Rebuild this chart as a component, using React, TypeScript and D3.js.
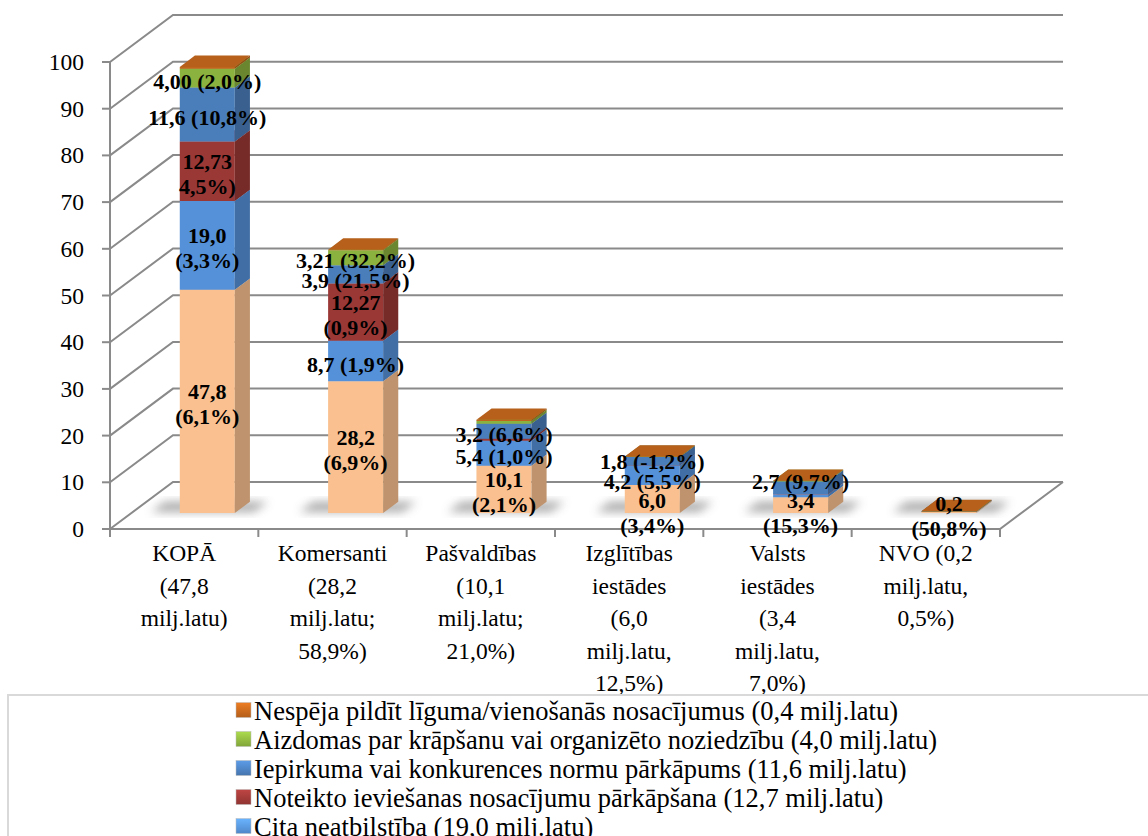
import React from 'react';
import * as d3 from 'd3';

const categories = [
  'KOPĀ\n(47,8\nmilj.latu)',
  'Komersanti\n(28,2\nmilj.latu;\n58,9%)',
  'Pašvaldības\n(10,1\nmilj.latu;\n21,0%)',
  'Izglītības\niestādes\n(6,0\nmilj.latu,\n12,5%)',
  'Valsts\niestādes\n(3,4\nmilj.latu,\n7,0%)',
  'NVO (0,2\nmilj.latu,\n0,5%)',
];

// stack order, bottom to top
const totalVals = [47.8, 28.2, 10.1, 6.0, 3.4, 0.2];
const citaVals = [19.0, 8.7, 5.4, 4.2, 0.6, 0.1];
const noteiktoVals = [12.73, 12.27, 0.4, 0, 0.05, 0];
const iepirkumaVals = [11.6, 3.9, 3.2, 1.8, 2.7, 0];
const aizdomasVals = [4.0, 3.21, 0.6, 0, 0.1, 0];
const nespejaVals = [0.4, 0.12, 0.25, 0.1, 0.05, 0.1];

const totalLabels = ['47,8\n(6,1%)', '28,2\n(6,9%)', '10,1\n(2,1%)', '6,0\n(3,4%)', '3,4\n(15,3%)', '0,2\n(50,8%)'];
const citaLabels = ['19,0\n(3,3%)', '8,7 (1,9%)', '5,4 (1,0%)', '4,2 (5,5%)', null, null];
const noteiktoLabels = ['12,73\n4,5%)', '12,27\n(0,9%)', null, null, null, null];
const iepirkumaLabels = ['11,6 (10,8%)', '3,9 (21,5%)', '3,2 (6,6%)', '1,8 (-1,2%)', '2,7 (9,7%)', null];
const aizdomasLabels = ['4,00 (2,0%)', '3,21 (32,2%)', null, null, null, null];
const nespejaLabels = [null, null, null, null, null, null];

// legend, as listed (top to bottom)
const legendNames = [
  'Nespēja pildīt līguma/vienošanās nosacījumus (0,4 milj.latu)',
  'Aizdomas par krāpšanu vai organizēto noziedzību (4,0 milj.latu)',
  'Iepirkuma vai konkurences normu pārkāpums (11,6 milj.latu)',
  'Noteikto ieviešanas nosacījumu pārkāpšana (12,7 milj.latu)',
  'Cita neatbilstība (19,0 milj.latu)',
];
const legendColors = ['#C0651C', '#8BB13E', '#4A7EBB', '#9A3836', '#5591D8'];

const yTicks = d3.range(0, 101, 10);

const series = [
  { vals: totalVals, labels: totalLabels, color: '#FAC08F' },
  { vals: citaVals, labels: citaLabels, color: '#5591D8' },
  { vals: noteiktoVals, labels: noteiktoLabels, color: '#9A3836' },
  { vals: iepirkumaVals, labels: iepirkumaLabels, color: '#4A7EBB' },
  { vals: aizdomasVals, labels: aizdomasLabels, color: '#8BB13E' },
  { vals: nespejaVals, labels: nespejaLabels, color: '#C0651C' },
];

const DX = 63;
const DY = 47;
const Z0 = 0.34;
const Z1 = 0.58;
const FONT = "'Liberation Serif', 'DejaVu Serif', serif";

export default function App() {
  const W = 1148;
  const H = 836;
  const y = d3.scaleLinear().domain([0, 100]).range([529, 62]);
  const x = d3.scaleBand<number>().domain(d3.range(categories.length)).range([110, 1000]);
  const bw = x.bandwidth();
  const right = 1000;

  const P = (u: number, v: number, z: number) => [u + z * DX, y(v) - z * DY];
  const poly = (pts: number[][]) => pts.map(p => p.join(',')).join(' ');

  const bars: React.ReactNode[] = [];
  const shadows: React.ReactNode[] = [];
  const labels: React.ReactNode[] = [];

  categories.forEach((_, i) => {
    const uL = (x(i) as number) + 0.326 * bw;
    const uR = uL + 0.371 * bw;
    shadows.push(
      <polygon key={'sh' + i} points={poly([P(uL - 30, 0, Z0 + 0.02), P(uR + 18, 0, Z0 + 0.02), P(uR + 18, 0, Z1), P(uL - 30, 0, Z1)])}
        fill="#5a5a5a" opacity={0.5} filter="url(#blur)" />
    );
    let cum = 0;
    const lab: { c: number; lines: string[] }[] = [];
    series.forEach((s, k) => {
      const v0 = cum;
      const v1 = cum + s.vals[i];
      cum = v1;
      const c = d3.color(s.color)!;
      bars.push(
        <g key={`b${i}-${k}`}>
          <polygon points={poly([P(uL, v0, Z0), P(uR, v0, Z0), P(uR, v1, Z0), P(uL, v1, Z0)])} fill={s.color} />
          <polygon points={poly([P(uR, v0, Z0), P(uR, v0, Z1), P(uR, v1, Z1), P(uR, v1, Z0)])} fill={c.darker(0.75).toString()} />
          <polygon points={poly([P(uL, v1, Z0), P(uR, v1, Z0), P(uR, v1, Z1), P(uL, v1, Z1)])} fill={c.darker(0.15).toString()} />
        </g>
      );
      const t = s.labels[i];
      if (t) lab.push({ c: (P(0, v0, Z0)[1] + P(0, v1, Z0)[1]) / 2 + 3, lines: t.split('\n') });
    });
    // resolve overlapping labels: push down, but not below the bar foot; then push up
    lab.sort((a, b) => a.c - b.c);
    const half = (l: { lines: string[] }) => (l.lines.length === 1 ? 10 : 22);
    const foot = P(0, 0, Z0)[1];
    for (let j = 1; j < lab.length; j++) {
      const min = lab[j - 1].c + half(lab[j - 1]) + half(lab[j]);
      if (lab[j].c < min) lab[j].c = min;
    }
    if (lab.length > 1 && lab[lab.length - 1].c > foot) {
      lab[lab.length - 1].c = foot;
      for (let j = lab.length - 2; j >= 0; j--) {
        const max = lab[j + 1].c - half(lab[j + 1]) - half(lab[j]);
        if (lab[j].c > max) lab[j].c = max;
      }
    }
    const cx = (uL + uR) / 2 + Z0 * DX;
    lab.forEach((l, j) => {
      const n = l.lines.length;
      labels.push(
        <text key={`l${i}-${j}`} x={cx} textAnchor="middle" style={{ fontFamily: FONT }} fontWeight="bold" fontSize={22} fill="#000">
          {l.lines.map((ln, m) => (
            <tspan key={m} x={cx} y={l.c + (m - (n - 1) / 2) * 25 + 7.5}>{ln}</tspan>
          ))}
        </text>
      );
    });
  });

  return (
    <svg width={W} height={H} style={{ position: 'absolute', left: 0, top: 0, background: '#fff', fontFamily: FONT }}>
      <defs>
        <filter id="blur" x="-50%" y="-50%" width="200%" height="200%">
          <feGaussianBlur stdDeviation="5" />
        </filter>
        {legendColors.map((c, i) => (
          <linearGradient key={i} id={'lg' + i} x1="0" y1="0" x2="0" y2="1">
            <stop offset="0" stopColor={d3.color(c)!.brighter(0.6).toString()} />
            <stop offset="1" stopColor={d3.color(c)!.darker(0.2).toString()} />
          </linearGradient>
        ))}
      </defs>

      {/* back wall gridlines */}
      {yTicks.map(v => (
        <path key={'g' + v} d={`M110,${y(v)}L${110 + DX},${y(v) - DY}L${right + DX},${y(v) - DY}`} fill="none" stroke="#8a8a8a" strokeWidth={2} />
      ))}
      {/* floor */}
      <path d={`M110,${y(0)}L${right},${y(0)}L${right + DX},${y(0) - DY}`} fill="none" stroke="#8a8a8a" strokeWidth={2} />
      <line x1={110} x2={110} y1={y(100)} y2={y(0)} stroke="#8a8a8a" strokeWidth={2} />
      {yTicks.map(v => (
        <g key={'t' + v}>
          <line x1={102} x2={110} y1={y(v)} y2={y(v)} stroke="#8a8a8a" strokeWidth={2} />
          <text x={84} y={y(v) + 8} textAnchor="end" style={{ fontFamily: FONT }} fontSize={23.5} fill="#000">{v}</text>
        </g>
      ))}
      {d3.range(categories.length + 1).map(i => (
        <line key={'ct' + i} x1={110 + i * bw} x2={110 + i * bw} y1={y(0)} y2={y(0) + 8} stroke="#8a8a8a" strokeWidth={2} />
      ))}

      {shadows}
      {bars}
      {labels}

      {categories.map((c, i) => {
        const cx = (x(i) as number) + bw / 2;
        return (
          <text key={'c' + i} textAnchor="middle" style={{ fontFamily: FONT }} fontSize={23.5} fill="#000">
            {c.split('\n').map((ln, m) => (
              <tspan key={m} x={cx} y={561 + m * 32.5}>{ln}</tspan>
            ))}
          </text>
        );
      })}

      {/* legend */}
      <rect x={8} y={695} width={1160} height={200} fill="none" stroke="#d9d9d9" strokeWidth={2} />
      {legendNames.map((n, i) => {
        const cy = 710 + i * 29;
        return (
          <g key={'lg' + i}>
            <rect x={236} y={cy - 7.5} width={15} height={15} fill={`url(#lg${i})`} stroke="#bbb" strokeWidth={0.5} />
            <text x={254} y={cy + 10} style={{ fontFamily: FONT }} fontSize={26.5} fill="#000">{n}</text>
          </g>
        );
      })}
    </svg>
  );
}
